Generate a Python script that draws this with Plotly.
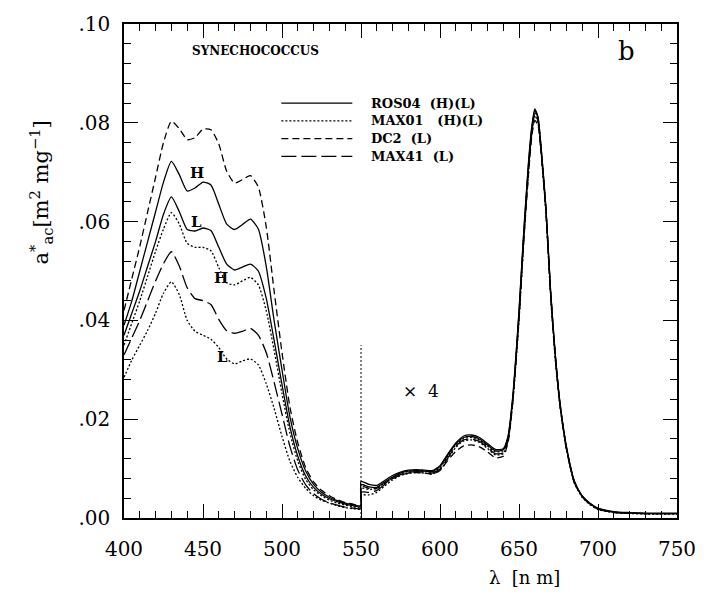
import plotly.graph_objects as go

# wavelength grid (nm); 550 appears twice: left of it real values, right of it values x4
wavelength = [400, 405, 410, 415, 420, 425, 430, 435, 440, 445, 450, 455, 460, 465, 470,
              475, 480, 485, 490, 495, 500, 505, 510, 515, 520, 525, 530, 535, 540, 545, 550,
              550, 555, 560, 565, 570, 575, 580, 585, 590, 595, 600, 605, 610, 615, 620, 625,
              630, 635, 640, 643, 646, 650, 653, 656, 658, 660, 662, 664, 667, 670, 673, 676,
              680, 685, 690, 695, 700, 710, 720, 730, 740, 750]

ros04_H = [0.039, 0.044, 0.050, 0.056, 0.062, 0.068, 0.0722, 0.0695, 0.0662, 0.0668, 0.0680,
           0.0674, 0.0635, 0.0595, 0.0584, 0.0594, 0.0605, 0.0585, 0.0510, 0.0400, 0.0300,
           0.0205, 0.0140, 0.0095, 0.0068, 0.0052, 0.0042, 0.0035, 0.0030, 0.0027, 0.0025,
           0.0074, 0.0068, 0.0066, 0.0076, 0.0086, 0.0093, 0.0097, 0.0098, 0.0097, 0.0096,
           0.0106, 0.0130, 0.0152, 0.0166, 0.0168, 0.0163, 0.0151, 0.0139, 0.0140, 0.0165,
           0.0245, 0.0420, 0.0580, 0.0720, 0.0790, 0.0828, 0.0812, 0.0750, 0.0630, 0.0460,
           0.0330, 0.0232, 0.0145, 0.0075, 0.0045, 0.0030, 0.0020, 0.0013, 0.0011, 0.0010,
           0.0010, 0.0010]

ros04_L = [0.037, 0.0415, 0.046, 0.051, 0.056, 0.0615, 0.0650, 0.0620, 0.0584, 0.0581, 0.0587,
           0.0582, 0.0548, 0.0514, 0.0502, 0.0508, 0.0514, 0.0500, 0.0445, 0.0360, 0.0270,
           0.0185, 0.0125, 0.0085, 0.0062, 0.0048, 0.0039, 0.0033, 0.0028, 0.0025, 0.0023,
           0.0068, 0.0063, 0.0062, 0.0073, 0.0083, 0.0091, 0.0095, 0.0096, 0.0095, 0.0094,
           0.0104, 0.0128, 0.0150, 0.0163, 0.0165, 0.0160, 0.0148, 0.0136, 0.0138, 0.0162,
           0.0240, 0.0415, 0.0575, 0.0715, 0.0785, 0.0825, 0.0810, 0.0748, 0.0628, 0.0458,
           0.0328, 0.0230, 0.0143, 0.0074, 0.0044, 0.0029, 0.0019, 0.0012, 0.0010, 0.0009,
           0.0009, 0.0009]

max01_H = [0.035, 0.0395, 0.044, 0.049, 0.054, 0.0585, 0.0618, 0.0595, 0.0556, 0.0548, 0.0548,
           0.0541, 0.0507, 0.0476, 0.0472, 0.0480, 0.0487, 0.0472, 0.0420, 0.0340, 0.0252,
           0.0172, 0.0115, 0.0078, 0.0057, 0.0045, 0.0036, 0.0030, 0.0026, 0.0023, 0.0021,
           0.0060, 0.0058, 0.0060, 0.0071, 0.0082, 0.0090, 0.0094, 0.0096, 0.0095, 0.0093,
           0.0102, 0.0126, 0.0148, 0.0161, 0.0163, 0.0158, 0.0146, 0.0134, 0.0136, 0.0160,
           0.0238, 0.0410, 0.0570, 0.0710, 0.0782, 0.0822, 0.0808, 0.0746, 0.0626, 0.0456,
           0.0326, 0.0228, 0.0141, 0.0073, 0.0043, 0.0028, 0.0018, 0.0012, 0.0010, 0.0009,
           0.0009, 0.0009]

max01_L = [0.0285, 0.0320, 0.0350, 0.0380, 0.0415, 0.0455, 0.0478, 0.0452, 0.0400, 0.0378,
           0.0370, 0.0362, 0.0345, 0.0322, 0.0312, 0.0318, 0.0322, 0.0310, 0.0272, 0.0222,
           0.0165, 0.0115, 0.0082, 0.0060, 0.0045, 0.0036, 0.0030, 0.0025, 0.0021, 0.0019,
           0.0018,
           0.0046, 0.0047, 0.0052, 0.0065, 0.0077, 0.0086, 0.0090, 0.0092, 0.0091, 0.0089,
           0.0097, 0.0120, 0.0143, 0.0156, 0.0158, 0.0153, 0.0141, 0.0128, 0.0130, 0.0155,
           0.0232, 0.0400, 0.0560, 0.0700, 0.0775, 0.0815, 0.0800, 0.0740, 0.0620, 0.0450,
           0.0320, 0.0225, 0.0139, 0.0071, 0.0042, 0.0027, 0.0017, 0.0011, 0.0009, 0.0008,
           0.0008, 0.0008]

dc2_L = [0.042, 0.0485, 0.055, 0.062, 0.069, 0.0760, 0.0803, 0.0788, 0.0766, 0.0770, 0.0787,
         0.0786, 0.0757, 0.0702, 0.0678, 0.0685, 0.0693, 0.0670, 0.0590, 0.0460, 0.0335,
         0.0225, 0.0152, 0.0102, 0.0073, 0.0056, 0.0045, 0.0037, 0.0031, 0.0028, 0.0026,
         0.0064, 0.0060, 0.0060, 0.0070, 0.0080, 0.0087, 0.0091, 0.0092, 0.0091, 0.0089,
         0.0096, 0.0117, 0.0135, 0.0146, 0.0148, 0.0144, 0.0134, 0.0122, 0.0125, 0.0152,
         0.0232, 0.0405, 0.0560, 0.0695, 0.0770, 0.0805, 0.0795, 0.0740, 0.0625, 0.0458,
         0.0328, 0.0230, 0.0143, 0.0074, 0.0044, 0.0029, 0.0019, 0.0012, 0.0010, 0.0009,
         0.0009, 0.0009]

max41_L = [0.033, 0.0365, 0.040, 0.044, 0.048, 0.0515, 0.0539, 0.0510, 0.0466, 0.0444, 0.0440,
           0.0432, 0.0402, 0.0379, 0.0374, 0.0378, 0.0384, 0.0370, 0.0335, 0.0275, 0.0210,
           0.0145, 0.0097, 0.0067, 0.0049, 0.0038, 0.0031, 0.0026, 0.0022, 0.0020, 0.0019,
           0.0052, 0.0052, 0.0056, 0.0068, 0.0080, 0.0088, 0.0092, 0.0094, 0.0093, 0.0091,
           0.0099, 0.0122, 0.0145, 0.0158, 0.0160, 0.0155, 0.0143, 0.0130, 0.0132, 0.0157,
           0.0235, 0.0405, 0.0565, 0.0705, 0.0778, 0.0818, 0.0804, 0.0742, 0.0622, 0.0452,
           0.0322, 0.0226, 0.0140, 0.0072, 0.0043, 0.0028, 0.0018, 0.0011, 0.0010, 0.0009,
           0.0009, 0.0009]

# scale-break marker (x4 beyond this wavelength)
break_x = [550, 550]
break_y = [0.0, 0.035]

y_tickvals = [0.00, 0.02, 0.04, 0.06, 0.08, 0.10]
y_ticktext = ['.00', '.02', '.04', '.06', '.08', '.10']
x_tickvals = [400, 450, 500, 550, 600, 650, 700, 750]

legend_names = ['ROS04  (H)(L)', 'MAX01   (H)(L)', 'DC2  (L)', 'MAX41  (L)']
legend_dash = ['solid', '2px,2px', '7px,4px', '15px,5px']

SERIF = 'DejaVu Serif'
W = 1.3

fig = go.Figure()
series = [
    (ros04_H, 'solid'), (ros04_L, 'solid'),
    (max01_H, '2px,2px'), (max01_L, '2px,2px'),
    (dc2_L, '7px,4px'), (max41_L, '15px,5px'),
]
for ys, dash in series:
    fig.add_trace(go.Scatter(x=wavelength, y=ys, mode='lines',
                             line=dict(color='black', width=W, dash=dash, shape='spline', smoothing=0.6),
                             showlegend=False, hoverinfo='skip'))

fig.add_trace(go.Scatter(x=break_x, y=break_y, mode='lines',
                         line=dict(color='black', width=1, dash='2px,2px'),
                         showlegend=False, hoverinfo='skip'))

# legend drawn as shapes + text
leg_x0, leg_x1, leg_tx = 499.6, 544.5, 555
leg_rows = [0.0840, 0.0804, 0.0768, 0.0732]
for name, dash, yy in zip(legend_names, legend_dash, leg_rows):
    fig.add_shape(type='line', x0=leg_x0, x1=leg_x1, y0=yy, y1=yy, xref='x', yref='y',
                  line=dict(color='black', width=W, dash=dash))
    fig.add_annotation(x=leg_tx, y=yy, text='<b>' + name + '</b>', showarrow=False,
                       xanchor='left', yanchor='middle',
                       font=dict(family=SERIF, size=13, color='black'))

ann = [
    dict(x=441.7, y=0.0945, text='<b>SYNECHOCOCCUS</b>', size=12, xanchor='left'),
    dict(x=718, y=0.0945, text='b', size=26, xanchor='center'),
    dict(x=446.1, y=0.0698, text='<b>H</b>', size=15, xanchor='center'),
    dict(x=446.1, y=0.0600, text='<b>L</b>', size=15, xanchor='center'),
    dict(x=461.6, y=0.0485, text='<b>H</b>', size=15, xanchor='center'),
    dict(x=462.3, y=0.0326, text='<b>L</b>', size=15, xanchor='center'),
    dict(x=588, y=0.0258, text='×  4', size=17, xanchor='center'),
]
for a in ann:
    fig.add_annotation(x=a['x'], y=a['y'], text=a['text'], showarrow=False, xanchor=a['xanchor'],
                       yanchor='middle', font=dict(family=SERIF, size=a['size'], color='black'))

fig.add_annotation(x=-0.151, y=0.66, xref='paper', yref='paper', textangle=-90, showarrow=False,
                   xanchor='center', yanchor='middle',
                   text='a<sup>*</sup><sub>ac</sub>[m<sup>2</sup> mg<sup>−1</sup>]',
                   font=dict(family=SERIF, size=21, color='black'))
fig.add_annotation(x=0.724, y=-0.12, xref='paper', yref='paper', showarrow=False,
                   xanchor='center', yanchor='middle',
                   text='λ  [n m]', font=dict(family=SERIF, size=18, color='black'))

axis_common = dict(showline=True, linecolor='black', linewidth=1.5, mirror='allticks',
                   ticks='inside', tickcolor='black', tickwidth=1, ticklen=14,
                   showgrid=False, zeroline=False, ticklabeloverflow='allow',
                   tickfont=dict(family=SERIF, size=20, color='black'))

fig.update_xaxes(range=[400, 750], tickvals=x_tickvals, ticklabelstandoff=12,
                 minor=dict(dtick=10, ticks='inside', ticklen=7, tickcolor='black', tickwidth=1, showgrid=False),
                 **axis_common)
fig.update_yaxes(range=[0, 0.1], tickvals=y_tickvals, ticktext=y_ticktext, ticklabelstandoff=8,
                 minor=dict(dtick=0.004, ticks='inside', ticklen=7, tickcolor='black', tickwidth=1, showgrid=False),
                 **axis_common)

fig.update_layout(width=708, height=594, margin=dict(l=124, r=22, t=13, b=76),
                  paper_bgcolor='white', plot_bgcolor='white', showlegend=False)

fig.write_html('out.html')
